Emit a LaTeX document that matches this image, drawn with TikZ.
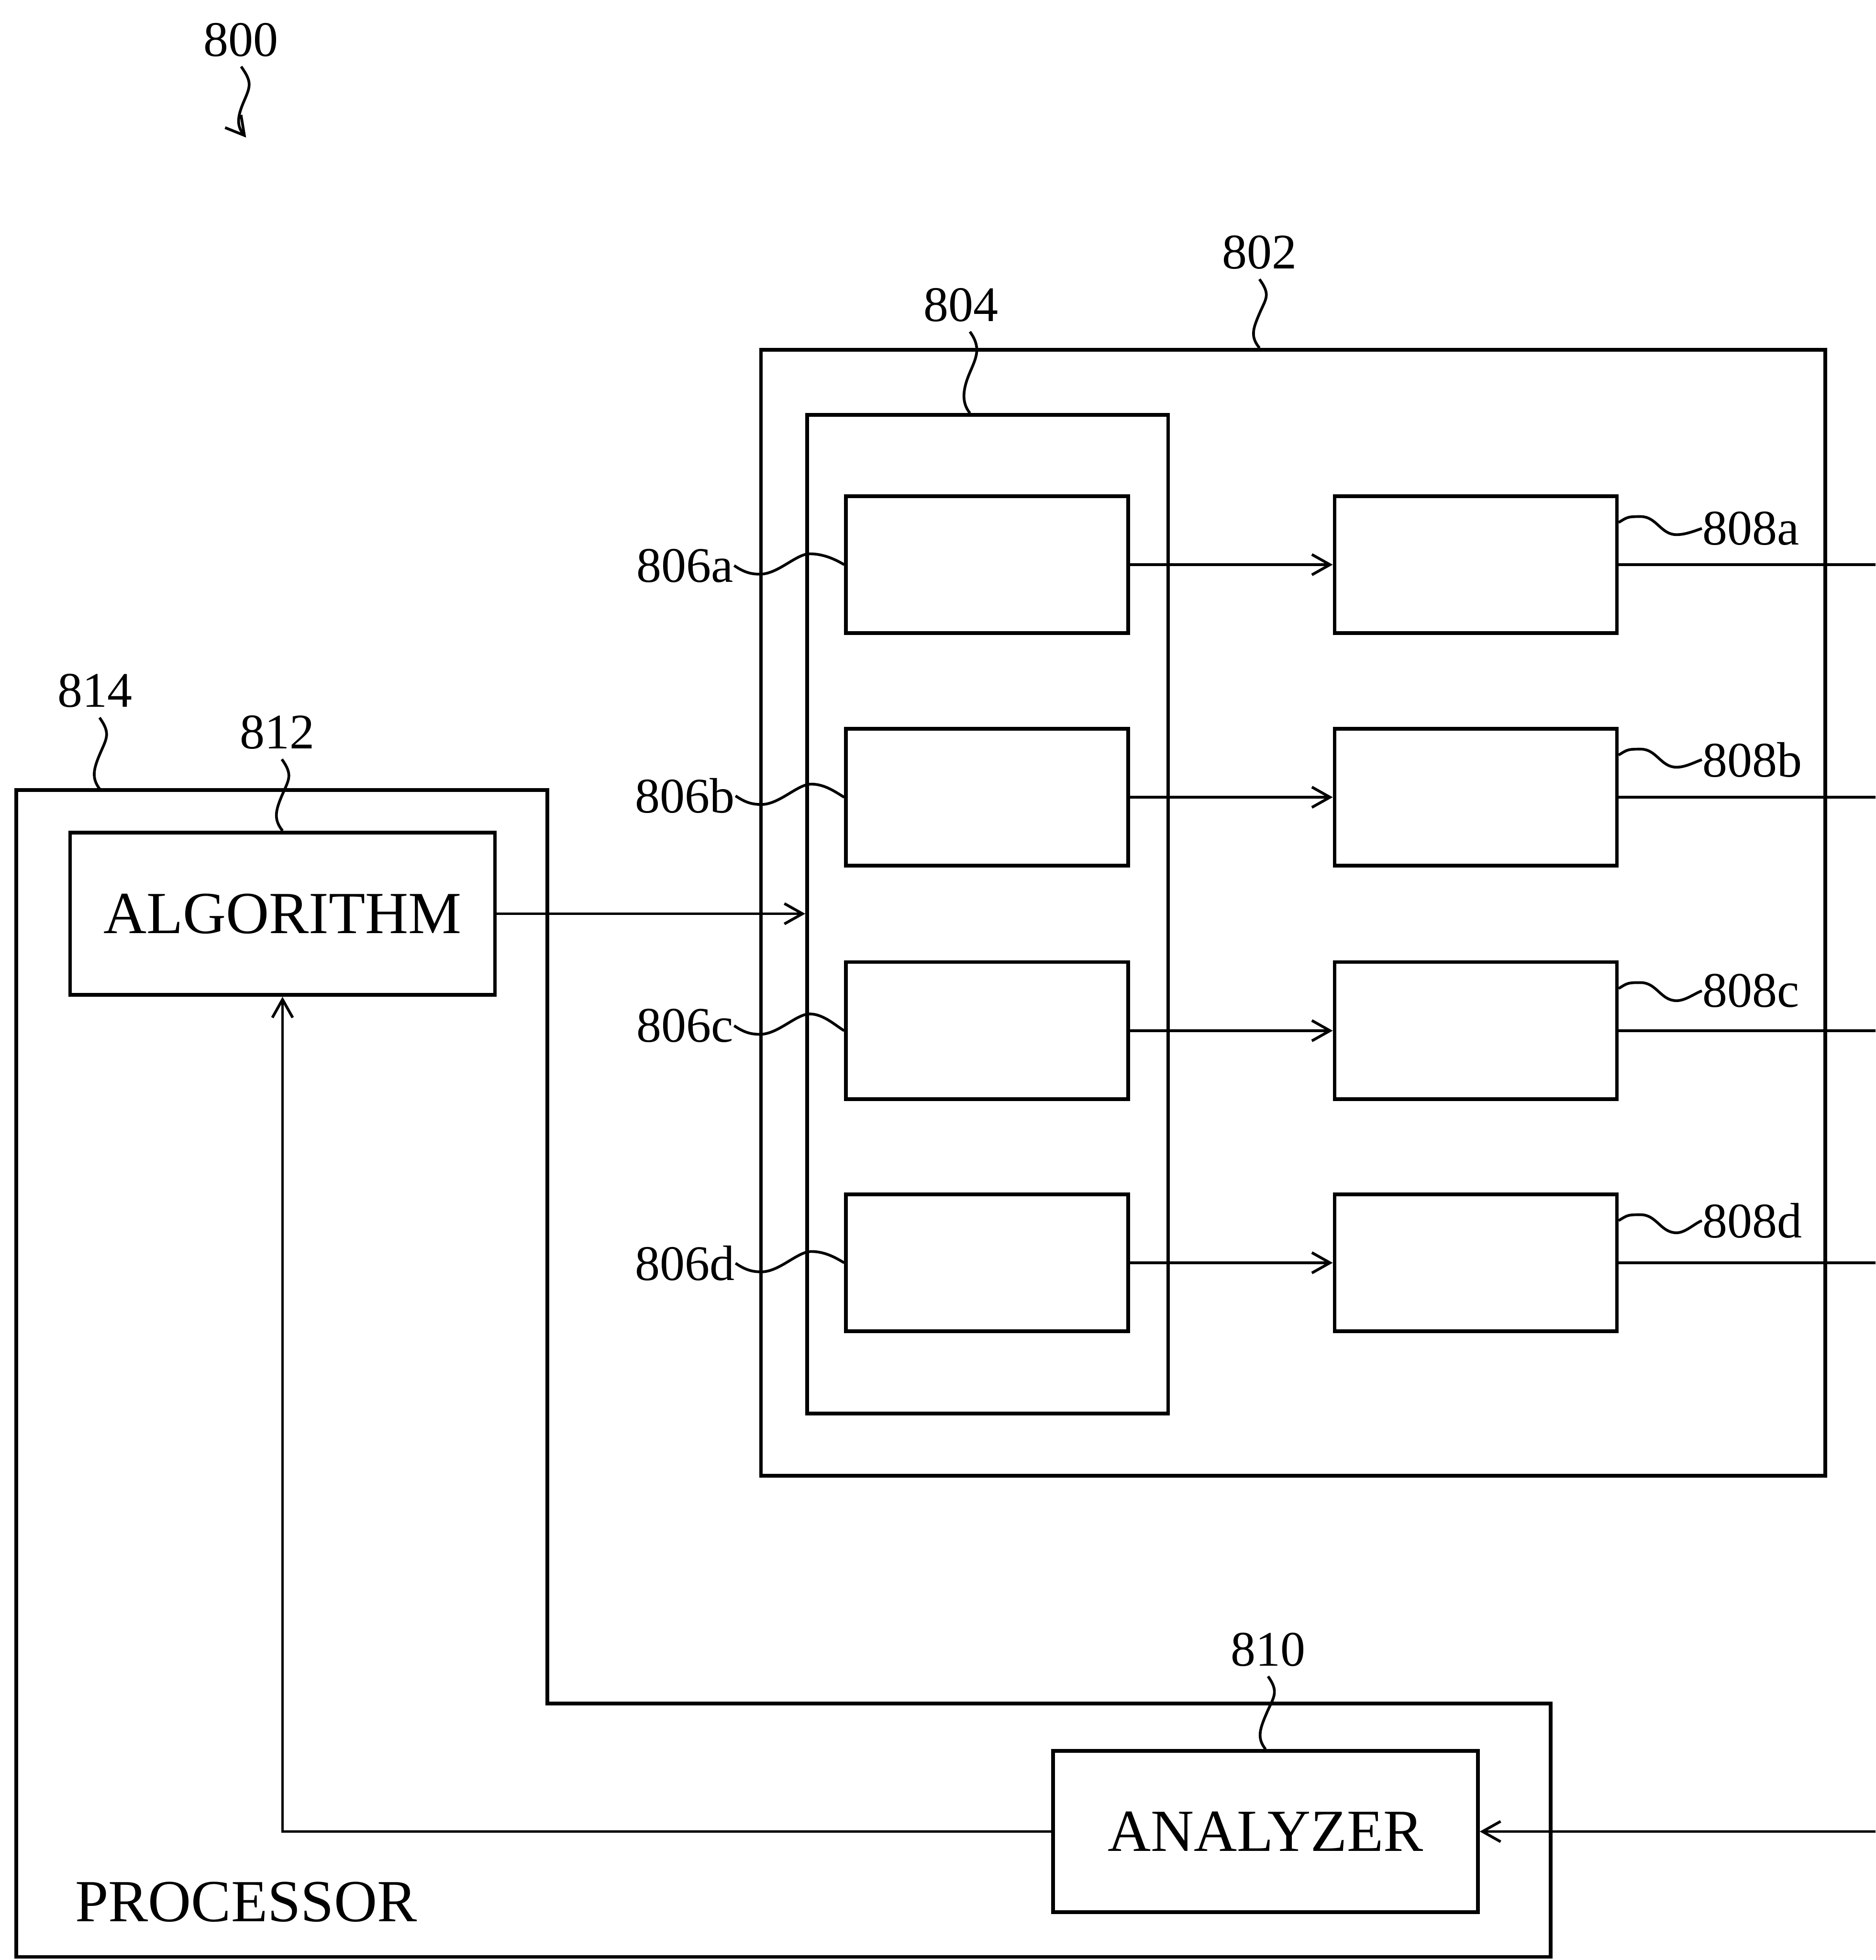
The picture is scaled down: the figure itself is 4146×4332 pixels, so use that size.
\documentclass[tikz,border=0pt]{standalone}
\usepackage{fontspec}
\setmainfont{Liberation Serif}
\usetikzlibrary{arrows.meta,calc}
\begin{document}
\begin{tikzpicture}[x=0.1pt,y=-0.1pt,
  every node/.style={inner sep=0pt},
  lbl/.style={font=\fontsize{11}{13}\selectfont},
  captext/.style={font=\fontsize{13.2}{15}\selectfont},
  box/.style={draw,line width=0.8pt,inner sep=0pt},
  conn/.style={line width=0.6pt},
  arr/.style={line width=0.6pt,-{Straight Barb[length=4pt,width=4.5pt,line width=0.6pt]}},
  lead/.style={line width=0.6pt},
  vsq/.style={to path={.. controls +(25,35) and +(15,-35) .. ($(\tikztostart)!0.5!(\tikztotarget)$) .. controls +(-15,35) and +(-20,-25) .. (\tikztotarget)}}
]
\useasboundingbox (0,0) rectangle (4146,4332);

% outer block 802 and inner block 804
\node[box,minimum width=235.3pt,minimum height=248.9pt] (b802) at (2858.5,2017.5) {};
\node[box,minimum width=79.8pt,minimum height=220.7pt] (b804) at (2183,2020.5) {};

\foreach \n/\y in {a/1248,b/1762,c/2278,d/2791}{
  \node[box,minimum width=62.4pt,minimum height=30.3pt] (b806\n) at (2182,\y) {};
  \node[box,minimum width=62.4pt,minimum height=30.3pt] (b808\n) at (3262,\y) {};
  \draw[arr] (b806\n.east) -- (b808\n.west);
  \coordinate (r\n) at (4146,\y);
  \draw[conn] (b808\n.east) -- (r\n);
}

% labels 806
\foreach \n/\y in {a/1250,b/1759,c/2267,d/2792}{
  \node[lbl] (l806\n) at (1514,\y) {806\n};
  \draw[lead] (l806\n.east) .. controls +(22,15) and +(-20,0) .. ++(57,19)
     .. controls +(40,0) and +(-30,0) .. ++(110,-45)
     .. controls +(30,0) and +(-20,-12) .. (b806\n.west);
}

% labels 808
\foreach \n/\y in {a/1168,b/1679,c/2190,d/2698}{
  \node[lbl,anchor=west] (l808\n) at (3762,\y) {808\n};
  \coordinate (s808\n) at ($(b808\n.north east)!0.2!(b808\n.south east)$);
  \draw[lead] (s808\n) .. controls +(20,-12) and +(-30,0) .. ++(49,-13)
     .. controls +(35,0) and +(-35,0) .. ++(79,40)
     .. controls +(20,0) and +(-15,5) .. (l808\n.west);
}

% processor 814
\draw[line width=0.8pt] (36,1746) -- (1210,1746) -- (1210,3765) -- (3428,3765)
   -- (3428,4325) -- (36,4325) -- cycle;
\coordinate (p814) at (222,1746);

\node[box,captext,minimum width=93.9pt,minimum height=35.9pt] (alg) at (624.5,2019.5) {ALGORITHM};
\node[box,captext,minimum width=93.9pt,minimum height=35.6pt] (ana) at (2797.5,4048) {ANALYZER};
\node[captext] (proc) at (544,4204) {PROCESSOR};

\draw[arr] (alg.east) -- (alg.east -| b804.west);
\draw[arr] (ana.west) -| (alg.south);
\coordinate (rin) at (4146,4048);
\draw[arr] (rin) -- (ana.east);

% reference numerals
\node[lbl] (l800) at (533,88) {800};
\coordinate (a800) at (544,304);
\draw[arr] ([yshift=-2pt]l800.south) to[vsq] (a800);

\node[lbl] (l802) at (2784,558) {802};
\draw[lead] ([yshift=-2pt]l802.south) to[vsq] (l802 |- b802.north);

\node[lbl] (l804) at (2124,674) {804};
\draw[lead] ([xshift=2pt,yshift=-2pt]l804.south) to[vsq] ([xshift=2pt]l804 |- b804.north);

\node[lbl] (l814) at (210,1527) {814};
\draw[lead] ([xshift=1pt,yshift=-2pt]l814.south) to[vsq] (p814);

\node[lbl] (l812) at (613,1619) {812};
\draw[lead] ([xshift=1pt,yshift=-2pt]l812.south) to[vsq] (alg.north);

\node[lbl] (l810) at (2803,3646) {810};
\draw[lead] ([yshift=-2pt]l810.south) to[vsq] (ana.north);
\end{tikzpicture}
\end{document}
